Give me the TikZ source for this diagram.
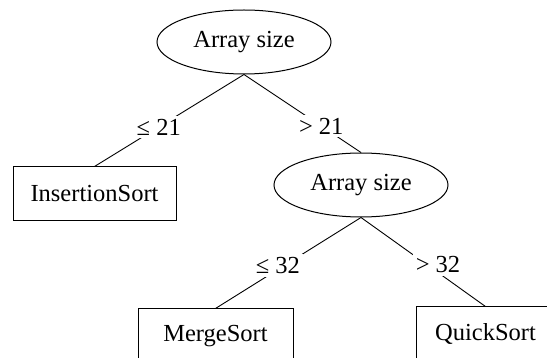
\documentclass[tikz,border=0pt]{standalone}
\usepackage{fontspec}
\setmainfont{Liberation Serif}
\usetikzlibrary{shapes.geometric}
\tikzset{
  every node/.style={font=\fontsize{24.5}{28}\selectfont},
  test/.style={draw, ellipse, line width=1pt, minimum width=174pt, minimum height=64pt, inner sep=0pt},
  leaf/.style={draw, rectangle, line width=1pt, minimum height=54pt, inner sep=0pt},
  conn/.style={line width=0.9pt},
  lbl/.style={fill=white, inner sep=3pt}
}
\begin{document}
\begin{tikzpicture}[x=1pt, y=-1pt]
\path[use as bounding box, clip] (0,0) rectangle (547,358);
\node[test] (e1) at (244,42) {Array size};
\node[leaf, minimum width=163pt] (ins) at (94.5,194) {InsertionSort};
\node[test] (e2) at (361,185) {Array size};
\node[leaf, minimum width=155pt] (merge) at (215.5,336) {MergeSort};
\node[leaf, minimum width=139pt] (quick) at (485.5,334) {QuickSort};
\draw[conn] (e1.south) -- node[lbl, pos=0.57] (l1) {≤ 21} (ins.north);
\draw[conn] (e1.south) -- node[lbl, pos=0.66] (l2) {> 21} (e2.north);
\draw[conn] (e2.south) -- node[lbl, pos=0.53, xshift=-6pt] (l3) {≤ 32} (merge.north);
\draw[conn] (e2.south) -- node[lbl, pos=0.53, xshift=11pt] (l4) {> 32} (quick.north);
\end{tikzpicture}
\end{document}
